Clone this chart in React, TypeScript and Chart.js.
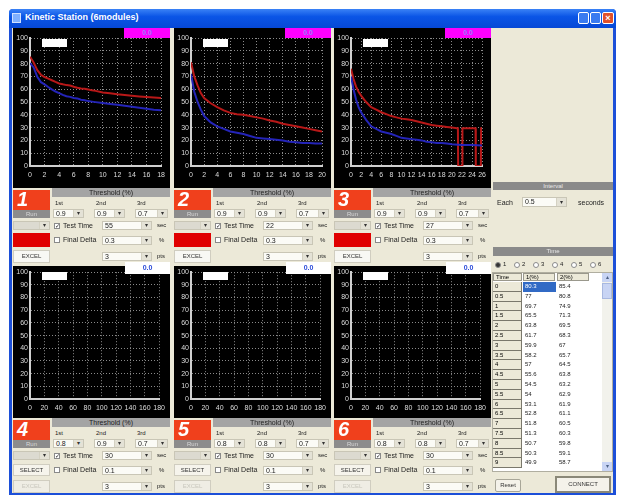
import React, { useEffect, useRef } from 'react';
import { Chart, registerables } from 'chart.js';
Chart.register(...registerables);

// ---------- data ----------
const m1Time = [0, 0.5, 1, 1.5, 2, 2.5, 3, 3.5, 4, 4.5, 5, 5.5, 6, 6.5, 7, 7.5, 8, 8.5, 9, 10, 11, 12, 13, 14, 15, 16, 17, 18];
const m1Blue = [80.3, 77, 69.7, 65.5, 63.8, 61.7, 59.9, 58.2, 57, 55.6, 54.5, 54, 53.1, 52.8, 51.8, 51.3, 50.7, 50.3, 49.9, 49.2, 48.5, 47.8, 47, 46.3, 45.5, 44.8, 44, 43.5];
const m1Red = [85.4, 80.8, 74.9, 71.3, 69.5, 68.3, 67, 65.7, 64.5, 63.8, 63.2, 62.9, 61.9, 61.1, 60.5, 60.3, 59.8, 59.1, 58.7, 57.5, 56.8, 56, 55.4, 54.8, 54.3, 53.9, 53.5, 53.2];

const m2Time = [0, 0.5, 1, 1.5, 2, 3, 4, 5, 6, 7, 8, 9, 10, 11, 12, 13, 14, 15, 16, 17, 18, 19, 20];
const m2Red = [81, 70, 63, 57, 53, 49, 46, 43.5, 41.5, 40.5, 40, 39, 38, 37, 35.5, 34.5, 33, 32, 31, 30, 29, 28, 27];
const m2Blue = [72, 58, 50, 44, 39, 34, 31, 29, 27, 26, 25, 23.5, 22, 21.5, 21, 20.5, 20, 19, 18.5, 18, 18, 17.5, 17.5];

const m3RedTime = [0, 0.5, 1, 1.5, 2, 3, 4, 5, 6, 7, 8, 9, 10, 11, 12, 13, 14, 15, 16, 17, 18, 19, 20, 21, 21.2, 21.25, 22.05, 22.1, 23, 24, 24.7, 24.75, 25.75, 25.8, 26];
const m3Red = [76, 68, 62, 58, 55, 50, 46, 44, 42, 40.5, 39, 38, 37, 36.5, 36, 35, 34, 33, 32, 31.5, 31, 30.5, 30, 29.5, 29.5, 0, 0, 29.5, 29.5, 29.5, 29.5, 0, 0, 29.5, 29.5];
const m3BlueTime = [0, 0.5, 1, 1.5, 2, 3, 4, 5, 6, 7, 8, 9, 10, 11, 12, 13, 14, 15, 16, 17, 18, 19, 20, 22, 24, 26];
const m3Blue = [70, 60, 52, 46, 42, 36, 31, 29, 27, 26, 25, 23.5, 22, 21.5, 21, 20.5, 20, 19, 18.5, 18, 18, 17.5, 17, 16.5, 16.5, 16];

const xMaxes = [18, 20, 26, 180, 180, 180];
const xSteps = [2, 2, 2, 20, 20, 20];

const firstTh = ['0.9', '0.9', '0.9', '0.8', '0.8', '0.8'];
const secondTh = ['0.9', '0.9', '0.9', '0.9', '0.8', '0.8'];
const thirdTh = ['0.7', '0.7', '0.7', '0.7', '0.7', '0.7'];
const testTimes = ['55', '22', '27', '30', '30', '30'];
const finalDeltas = ['0.3', '0.3', '0.3', '0.1', '0.1', '0.1'];
const ptsValues = ['3', '3', '3', '3', '3', '3'];

const tableRows = 19;
const radioLabels = ['1', '2', '3', '4', '5', '6'];

const RED = '#b81818';
const BLUE = '#2424b8';
const UI = '"Liberation Sans", Arial, sans-serif';
const BG = '#ECE9D8';

type Series = { x: number[]; y: number[]; color: string };

function ScopeChart(props: { idx: number; series: Series[]; height: number; padTop: number; axisH: number }) {
  const ref = useRef<HTMLCanvasElement>(null);
  const { idx, series, height, padTop, axisH } = props;
  useEffect(() => {
    const tickFont = { size: 7, family: UI };
    const chart = new Chart(ref.current as HTMLCanvasElement, {
      type: 'line',
      data: {
        datasets: series.map((s) => ({
          data: s.x.map((x, i) => ({ x, y: s.y[i] })),
          borderColor: s.color,
          borderWidth: 2,
          pointRadius: 0,
          tension: 0,
          fill: false,
        })),
      },
      options: {
        animation: false,
        responsive: false,
        maintainAspectRatio: false,
        layout: { padding: { top: padTop, right: 5, left: 0, bottom: 0 }, autoPadding: false },
        plugins: { legend: { display: false }, tooltip: { enabled: false } },
        scales: {
          x: {
            type: 'linear',
            min: 0,
            max: xMaxes[idx],
            afterFit: (a: any) => { a.height = axisH; },
            ticks: { stepSize: xSteps[idx], color: '#dcdcdc', font: tickFont, padding: 5, autoSkip: false, maxRotation: 0, minRotation: 0 },
            grid: { color: '#8a8a8a', drawTicks: false, lineWidth: 1 },
            border: { display: true, color: '#d0d0d0', width: 2, dash: [1, 2] },
          },
          y: {
            type: 'linear',
            min: 0,
            max: 100,
            afterFit: (a: any) => { a.width = 17; },
            ticks: { stepSize: 10, color: '#dcdcdc', font: tickFont, padding: 2, autoSkip: false },
            grid: { color: '#8a8a8a', drawTicks: false, lineWidth: 1 },
            border: { display: true, color: '#d0d0d0', width: 2, dash: [1, 2] },
          },
        },
      } as any,
    });
    return () => chart.destroy();
  }, []);
  return <canvas ref={ref} width={157} height={height} style={{ display: 'block', width: 157, height }} />;
}

const abs = (x: number, y: number, w: number, h: number, extra: any = {}) => ({
  position: 'absolute' as const, left: x, top: y, width: w, height: h, boxSizing: 'border-box' as const, ...extra,
});

function Txt(props: { x: number; y: number; t: string; size?: number; color?: string; bold?: boolean }) {
  return (
    <div style={{ position: 'absolute', left: props.x, top: props.y, fontSize: props.size || 7, lineHeight: '9px', color: props.color || '#222', fontFamily: UI, whiteSpace: 'nowrap', fontWeight: props.bold ? 'bold' : 'normal' }}>
      {props.t}
    </div>
  );
}

function Combo(props: { x: number; y: number; w: number; h?: number; v: string; field?: string }) {
  const h = props.h || 9;
  return (
    <div style={abs(props.x, props.y, props.w, h, { background: props.field || '#fbfbf6', border: '1px solid #c9c6b6' })}>
      <div style={{ position: 'absolute', left: 2, top: 0, fontSize: 7, lineHeight: h - 2 + 'px', fontFamily: UI, color: '#222' }}>{props.v}</div>
      <div style={abs(props.w - 12, 0, 10, h - 2, { background: '#e4e2d6', borderLeft: '1px solid #d4d1c2', fontSize: 6, lineHeight: h - 2 + 'px', textAlign: 'center', color: '#333', fontFamily: UI })}>▾</div>
    </div>
  );
}

function Check(props: { x: number; y: number; on: boolean; label: string }) {
  return (
    <>
      <div style={abs(props.x, props.y + 1, 6, 6, { background: '#fff', border: '1px solid #8a8a8a', fontSize: 6, lineHeight: '5px', textAlign: 'center', color: '#222', fontFamily: UI })}>{props.on ? '✓' : ''}</div>
      <Txt x={props.x + 9} y={props.y - 1} t={props.label} />
    </>
  );
}

function Controls(props: { idx: number; x: number; T: number }) {
  const { idx, x, T } = props;
  const top = idx < 3;
  return (
    <div style={abs(x, T, 157, 77)}>
      <div style={abs(0, 2, 37, 20, { background: '#f0401c' })}>
        <div style={{ position: 'absolute', left: 4, top: -2, fontSize: 20, fontWeight: 'bold', fontStyle: 'italic', color: '#fff', fontFamily: UI }}>{idx + 1}</div>
      </div>
      <div style={abs(0, 22, 37, 8, { background: '#8c8c8c', color: '#d8d8d8', fontSize: 6, lineHeight: '8px', textAlign: 'center', fontFamily: UI })}>Run</div>
      <div style={abs(39, 0, 118, 9, { background: '#a4a4a4', color: '#1c1c1c', fontSize: 7, lineHeight: '9px', textAlign: 'center', fontFamily: UI })}>Threshold (%)</div>
      <Txt x={42} y={11} t="1st" size={6} />
      <Txt x={83} y={11} t="2nd" size={6} />
      <Txt x={124} y={11} t="3rd" size={6} />
      <Combo x={40} y={21} w={31} v={firstTh[idx]} />
      <Combo x={81} y={21} w={31} v={secondTh[idx]} />
      <Combo x={122} y={21} w={33} v={thirdTh[idx]} />
      <Combo x={0} y={33} w={37} v="" field="#dcdad0" />
      <Check x={41} y={34} on={true} label="Test Time" />
      <Combo x={89} y={33} w={50} v={testTimes[idx]} />
      <Txt x={144} y={33} t="sec" size={6} />
      {top ? (
        <div style={abs(0, 45, 37, 14, { background: '#e00000' })} />
      ) : (
        <div style={abs(0, 46, 37, 12, { background: '#f6f4ec', border: '1px solid #d0cdc0', fontSize: 6, lineHeight: '10px', textAlign: 'center', color: '#333', fontFamily: UI })}>SELECT</div>
      )}
      <Check x={41} y={48} on={false} label="Final Delta" />
      <Combo x={89} y={48} w={50} v={finalDeltas[idx]} />
      <Txt x={146} y={48} t="%" size={6} />
      <div style={abs(0, 62, 37, 13, { background: top ? '#f8f8f4' : '#efede4', border: '1px solid #d0cdc0', fontSize: 6, lineHeight: '11px', textAlign: 'center', color: top ? '#333' : '#c8c6bc', fontFamily: UI })}>EXCEL</div>
      <Combo x={89} y={64} w={50} v={ptsValues[idx]} />
      <Txt x={144} y={64} t="pts" size={6} />
    </div>
  );
}

export default function App() {
  const modX = [13, 174, 334];
  const seriesList: Series[][] = [
    [{ x: m1Time, y: m1Red, color: RED }, { x: m1Time, y: m1Blue, color: BLUE }],
    [{ x: m2Time, y: m2Red, color: RED }, { x: m2Time, y: m2Blue, color: BLUE }],
    [{ x: m3BlueTime, y: m3Blue, color: BLUE }, { x: m3RedTime, y: m3Red, color: RED }],
    [], [], [],
  ];
  const rowH = 9.8;
  return (
    <div style={{ position: 'fixed', left: 0, top: 0, width: 617, height: 499, background: '#fff', overflow: 'hidden', fontFamily: UI }}>
      {/* window frame */}
      <div style={abs(9, 9, 607, 486, { background: '#1c4fd8', borderRadius: '4px 4px 0 0' })} />
      <div style={abs(9, 9, 607, 19, { background: 'linear-gradient(#3a82f6, #0a55e6 40%, #0648d6)', borderRadius: '4px 4px 0 0' })} />
      <div style={abs(12, 13, 9, 10, { background: '#7fb0ff', border: '1px solid #cfe0ff' })} />
      <Txt x={25} y={13} t="Kinetic Station (6modules)" size={9} color="#fff" bold />
      <div style={abs(578, 12, 11, 12, { background: '#3a7bf0', border: '1px solid #fff', borderRadius: 2 })} />
      <div style={abs(590, 12, 11, 12, { background: '#3a7bf0', border: '1px solid #fff', borderRadius: 2 })} />
      <div style={abs(602, 12, 12, 12, { background: '#e0502a', border: '1px solid #fff', borderRadius: 2, color: '#fff', fontSize: 9, lineHeight: '10px', textAlign: 'center', fontWeight: 'bold' })}>×</div>
      <div style={abs(12, 28, 601, 465, { background: BG })} />

      {/* charts */}
      {[0, 1, 2, 3, 4, 5].map((i) => {
        const top = i < 3;
        const x = modX[i % 3];
        const y = top ? 28 : 266;
        const h = top ? 160 : 152;
        return (
          <div key={'c' + i} style={abs(x, y, 157, h, { background: '#000' })}>
            <ScopeChart idx={i} series={seriesList[i]} height={h} padTop={top ? 10 : 6} axisH={top ? 22 : 19} />
            <div style={abs(29, top ? 11 : 6, 25, 8, { background: '#fff' })} />
            {top ? (
              <div style={abs(111, 0, 46, 10, { background: '#ff00ff', color: '#9a7cff', fontSize: 7, lineHeight: '10px', textAlign: 'center', fontWeight: 'bold' })}>0.0</div>
            ) : null}
          </div>
        );
      })}
      {[3, 4, 5].map((i) => (
        <div key={'w' + i} style={abs(modX[i % 3] + 112, 262, 45, 12, { background: '#fff', color: '#2a4ad8', fontSize: 7, lineHeight: '12px', textAlign: 'center', fontWeight: 'bold' })}>0.0</div>
      ))}

      {/* control panels */}
      {[0, 1, 2, 3, 4, 5].map((i) => (
        <Controls key={'k' + i} idx={i} x={modX[i % 3]} T={i < 3 ? 188 : 418} />
      ))}

      {/* right panel */}
      <div style={abs(493, 182, 120, 8, { background: '#8a8a8a', color: '#e8e8e8', fontSize: 6, lineHeight: '8px', textAlign: 'center' })}>Interval</div>
      <Txt x={497} y={198} t="Each" />
      <Combo x={522} y={197} w={45} h={10} v="0.5" />
      <Txt x={578} y={198} t="seconds" />
      <div style={abs(493, 247, 120, 9, { background: '#8a8a8a', color: '#e8e8e8', fontSize: 6, lineHeight: '9px', textAlign: 'center' })}>Time</div>
      {radioLabels.map((r, i) => (
        <React.Fragment key={'r' + i}>
          <div style={abs(495 + i * 19, 262, 6, 6, { borderRadius: 3, background: i === 0 ? '#333' : '#fff', border: '1px solid #8a8a8a' })} />
          <Txt x={503 + i * 19} y={260} t={r} size={6} />
        </React.Fragment>
      ))}
      <div style={abs(492, 272, 121, 200, { background: '#fff', border: '1px solid #b0aea0' })} />
      {['Time', '1(%)', '2(%)'].map((h, i) => (
        <div key={'h' + i} style={abs([493, 523, 557][i], 273, [29, 32, 32][i], 8, { background: BG, border: '1px solid #9a988c', fontSize: 6, lineHeight: '6px', paddingLeft: 2 })}>{h}</div>
      ))}
      {m1Time.slice(0, tableRows).map((t, r) => (
        <React.Fragment key={'row' + r}>
          <div style={abs(493, 282 + r * rowH, 29, rowH, { background: BG, borderBottom: '1px solid #7a786c', borderRight: '1px solid #7a786c', fontSize: 6, lineHeight: rowH - 1 + 'px', paddingLeft: 2 })}>{t}</div>
          <div style={abs(523, 282 + r * rowH, 33, rowH, { background: r === 0 ? '#316ac5' : '#fff', color: r === 0 ? '#fff' : '#222', fontSize: 6, lineHeight: rowH + 'px', paddingLeft: 2 })}>{m1Blue[r]}</div>
          <div style={abs(557, 282 + r * rowH, 33, rowH, { fontSize: 6, lineHeight: rowH + 'px', paddingLeft: 2, color: '#222' })}>{m1Red[r]}</div>
        </React.Fragment>
      ))}
      <div style={abs(602, 273, 10, 198, { background: '#f2f2ec' })} />
      <div style={abs(602, 273, 10, 9, { background: '#c8d4f4', fontSize: 6, lineHeight: '9px', textAlign: 'center', color: '#4d6185' })}>▴</div>
      <div style={abs(602, 283, 10, 16, { background: '#c8d4f4', border: '1px solid #a8b8e0' })} />
      <div style={abs(602, 462, 10, 9, { background: '#c8d4f4', fontSize: 6, lineHeight: '9px', textAlign: 'center', color: '#4d6185' })}>▾</div>
      <div style={abs(495, 479, 26, 13, { background: '#f4f2ea', border: '1px solid #a8a698', fontSize: 6, lineHeight: '11px', textAlign: 'center', color: '#333', borderRadius: 2 })}>Reset</div>
      <div style={abs(555, 476, 56, 17, { background: '#f4f2ea', border: '2px solid #8a8878', fontSize: 6, lineHeight: '13px', textAlign: 'center', color: '#333' })}>CONNECT</div>
    </div>
  );
}
